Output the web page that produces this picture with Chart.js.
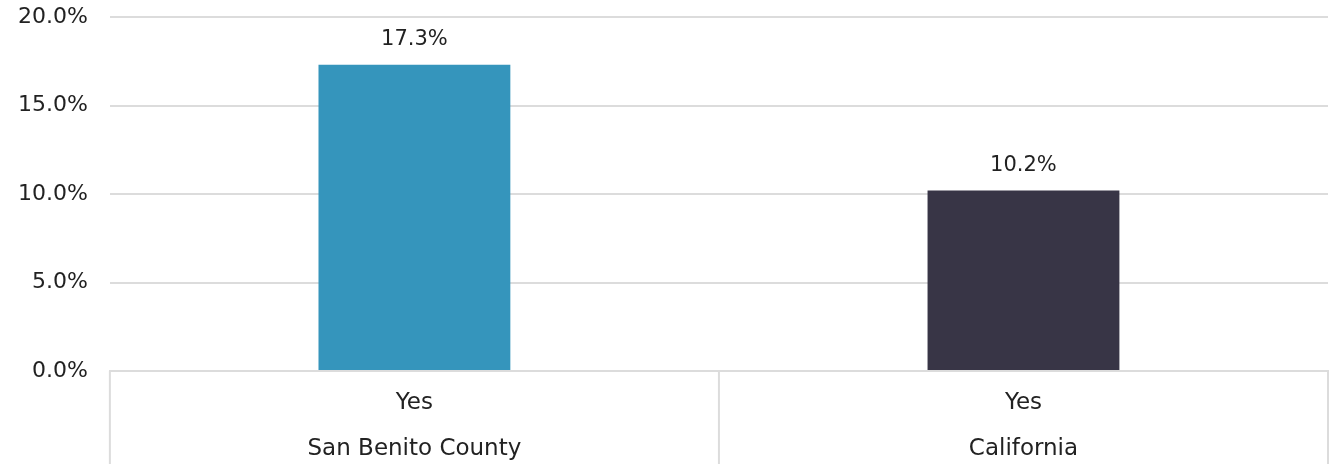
<!DOCTYPE html>
<html>
<head>
<meta charset="utf-8">
<script src="https://cdn.jsdelivr.net/npm/chart.js@4"></script>
<style>
  html, body { margin: 0; padding: 0; background: #fff; }
  #wrap { width: 1332px; height: 464px; }
</style>
</head>
<body>
<div id="wrap"><canvas id="canvas" width="1332" height="464"></canvas></div>
<script>
var answers = ["Yes", "Yes"];
var places = ["San Benito County", "California"];
var shares = [17.3, 10.2];
var barColors = ["#3595bc", "#383546"];
var yTicks = [0, 5, 10, 15, 20];

var FONT = "'DejaVu Sans', sans-serif";
var labels = answers.map(function (a, i) {
  return [a, places[i]];
});

// value labels above each bar
var valueLabels = {
  id: "valueLabels",
  afterDatasetsDraw: function (chart) {
    var ctx = chart.ctx;
    var meta = chart.getDatasetMeta(0);
    ctx.save();
    ctx.font = "21px " + FONT;
    ctx.fillStyle = "#222";
    ctx.textAlign = "center";
    ctx.textBaseline = "middle";
    meta.data.forEach(function (bar, i) {
      ctx.fillText(shares[i].toFixed(1) + "%", bar.x, bar.y - 25);
    });
    ctx.restore();
  }
};

// vertical separators between categories, below the axis
var separators = {
  id: "separators",
  afterDraw: function (chart) {
    var ctx = chart.ctx;
    var x = chart.scales.x;
    var half = (x.getPixelForTick(1) - x.getPixelForTick(0)) / 2;
    ctx.save();
    ctx.strokeStyle = "#dcdcdc";
    ctx.lineWidth = 2;
    var bounds = [x.getPixelForTick(0) - half];
    for (var i = 0; i < labels.length; i++) bounds.push(x.getPixelForTick(i) + half);
    bounds.forEach(function (px) {
      ctx.beginPath();
      ctx.moveTo(px, chart.chartArea.bottom);
      ctx.lineTo(px, chart.height);
      ctx.stroke();
    });
    ctx.restore();
  }
};

new Chart(document.getElementById("canvas"), {
  type: "bar",
  data: {
    labels: labels,
    datasets: [{
      data: shares,
      backgroundColor: barColors,
      categoryPercentage: 1,
      barPercentage: 0.315
    }]
  },
  options: {
    responsive: false,
    animation: false,
    layout: { padding: { top: 17, right: 4, bottom: -9, left: -4 } },
    plugins: {
      legend: { display: false },
      tooltip: { enabled: false }
    },
    scales: {
      x: {
        grid: { display: false },
        border: { display: true, color: "#dcdcdc", width: 2 },
        ticks: {
          color: "#222",
          font: { family: FONT, size: 23, lineHeight: 2 },
          padding: 1,
          maxRotation: 0
        }
      },
      y: {
        min: 0,
        max: 20,
        afterBuildTicks: function (axis) {
          axis.ticks = yTicks.map(function (v) { return { value: v }; });
        },
        afterFit: function (axis) {
          axis.paddingTop = 0;
          axis.paddingBottom = 0;
        },
        grid: { color: "#dcdcdc", lineWidth: 2, drawTicks: false },
        border: { display: false },
        ticks: {
          color: "#222",
          font: { family: FONT, size: 22 },
          padding: 22,
          callback: function (v) { return v.toFixed(1) + "%"; }
        }
      }
    }
  },
  plugins: [valueLabels, separators]
});
</script>
</body>
</html>
